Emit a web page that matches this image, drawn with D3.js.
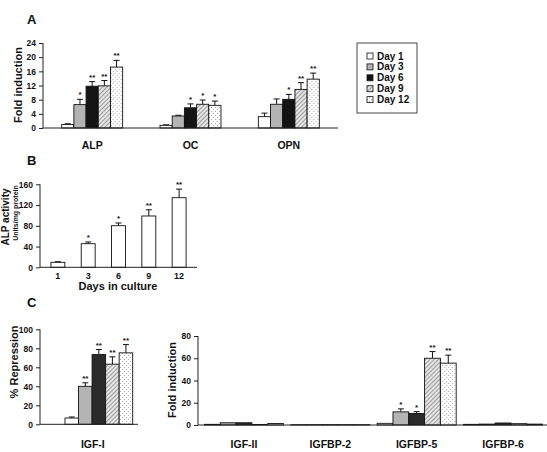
<!DOCTYPE html>
<html><head><meta charset="utf-8">
<script src="https://cdn.jsdelivr.net/npm/d3@7"></script>
<style>
body{margin:0;background:#fff;}
text{font-family:"Liberation Sans",Arial,sans-serif;font-weight:bold;fill:#111;}
</style></head>
<body><svg id="chart" width="547" height="452"></svg>
<script>
// ---------- data ----------
const days = ["Day 1","Day 3","Day 6","Day 9","Day 12"];
// Panel A
const genesA = ["ALP","OC","OPN"];
const foldA = [[1.0,6.6,11.8,11.9,17.2],[0.75,3.4,5.7,6.7,6.4],[3.2,6.7,8.1,10.9,13.8]];
const errA  = [[0.2,1.5,1.3,1.5,1.9],[0.15,0.2,1.1,1.2,1.2],[1.0,1.5,1.4,1.9,1.7]];
const sigA  = [["","*","**","**","**"],["","","*","*","*"],["","","*","**","**"]];
const ticksA = [0,4,8,12,16,20,24];
// Panel B
const daysB = ["1","3","6","9","12"];
const alpB  = [9.6,45.5,80.2,98.9,134.2];
const errB  = [1.2,3.3,5.2,12,16.5];
const sigB  = ["","*","*","**","**"];
const ticksB = [0,40,80,120,160];
// Panel C left
const genesC1 = ["IGF-I"];
const reprC1 = [[6.6,40,73.4,63.3,75.2]];
const errC1  = [[1.1,3.7,5.3,7.7,8.7]];
const sigC1  = [["","**","**","**","**"]];
const ticksC1 = [0,20,40,60,80,100];
// Panel C right
const genesC2 = ["IGF-II","IGFBP-2","IGFBP-5","IGFBP-6"];
const foldC2 = [[0.6,2.0,2.0,0.5,1.3],[0.3,0.3,0.3,0.3,0.3],[1.5,11.8,10.3,60,55.6],[0.6,0.8,1.8,1.2,0.8]];
const errC2  = [[0,0,0,0,0],[0,0,0,0,0],[0,2.7,1.7,6,7.2],[0,0,0,0,0]];
const sigC2  = [["","","","",""],["","","","",""],["","*","*","**","**"],["","","","",""]];
const ticksC2 = [0,20,40,60,80];

// ---------- setup ----------
const svg = d3.select("#chart");
const defs = svg.append("defs");
const hatch = defs.append("pattern").attr("id","hatch").attr("patternUnits","userSpaceOnUse")
  .attr("width",3).attr("height",3).attr("patternTransform","rotate(45)");
hatch.append("rect").attr("width",3).attr("height",3).attr("fill","#e4e4e4");
hatch.append("line").attr("x1",0).attr("y1",0).attr("x2",0).attr("y2",3).attr("stroke","#777").attr("stroke-width",1.3);
const dots = defs.append("pattern").attr("id","dots").attr("patternUnits","userSpaceOnUse")
  .attr("width",4).attr("height",4);
dots.append("rect").attr("width",4).attr("height",4).attr("fill","#fff");
dots.append("rect").attr("x",1).attr("y",1).attr("width",0.9).attr("height",0.9).attr("fill","#999");
dots.append("rect").attr("x",3).attr("y",3).attr("width",0.9).attr("height",0.9).attr("fill","#999");

const fills = ["#ffffff","#b4b4b4","#141414","url(#hatch)","url(#dots)"];
const fillsC = ["#ffffff","#b4b4b4","#2a2a2a","url(#hatch)","url(#dots)"];

function yAxis(g, y, x0, ticks){
  const ax = g.append("g").attr("transform",`translate(${x0},0)`)
    .call(d3.axisLeft(y).tickValues(ticks).tickSize(4).tickPadding(3));
  ax.select(".domain").remove();
  ax.append("line").attr("x1",0).attr("x2",0).attr("y1",y.range()[0]).attr("y2",y.range()[1]).attr("stroke","#222");
  ax.selectAll(".tick line").attr("stroke","#222");
  ax.selectAll(".tick text").attr("font-size",8.5).attr("font-family","Liberation Sans, Arial").attr("font-weight","bold").attr("fill","#111");
}

function groupedBars(g, genes, vals, errs, sigs, x0, y, fl){
  const x1 = d3.scaleBand().domain(days).range([0, x0.bandwidth()]).padding(0);
  genes.forEach((gene,i)=>{
    const gg = g.append("g").attr("transform",`translate(${x0(gene)},0)`);
    days.forEach((d,j)=>{
      const v = vals[i][j], e = errs[i][j];
      const xx = x1(d), w = x1.bandwidth();
      if(e>0){
        gg.append("line").attr("x1",xx+w/2).attr("x2",xx+w/2).attr("y1",y(v)).attr("y2",y(v+e)).attr("stroke","#111").attr("stroke-width",1);
        gg.append("line").attr("x1",xx+w/2-3).attr("x2",xx+w/2+3).attr("y1",y(v+e)).attr("y2",y(v+e)).attr("stroke","#111").attr("stroke-width",1);
      }
      gg.append("rect").attr("x",xx).attr("y",y(v)).attr("width",w).attr("height",y(0)-y(v))
        .attr("fill",fl[j]).attr("stroke","#111").attr("stroke-width",0.9);
      if(sigs[i][j]){
        gg.append("text").attr("x",xx+w/2).attr("y",y(v+e)-2).attr("text-anchor","middle")
          .attr("font-size",8).text(sigs[i][j]);
      }
    });
  });
}

// ---------- Panel A ----------
{
  const g = svg.append("g");
  const y = d3.scaleLinear().domain([0,24]).range([128,43]);
  const x0 = d3.scaleBand().domain(genesA).range([43,338]).paddingInner(0.38).paddingOuter(0.19);
  groupedBars(g, genesA, foldA, errA, sigA, x0, y, fills);
  g.append("line").attr("x1",43).attr("x2",338).attr("y1",y(0)).attr("y2",y(0)).attr("stroke","#222");
  yAxis(g, y, 43, ticksA);
  genesA.forEach(gn=> g.append("text").attr("x",x0(gn)+x0.bandwidth()/2).attr("y",149).attr("text-anchor","middle").attr("font-size",10.5).text(gn));
  g.append("text").attr("transform","translate(22,85) rotate(-90)").attr("text-anchor","middle").attr("font-size",11).text("Fold induction");
  g.append("text").attr("x",27).attr("y",24).attr("font-size",13).text("A");
  // legend
  const lg = g.append("g");
  lg.append("rect").attr("x",357).attr("y",43).attr("width",60).attr("height",70).attr("fill","#fff").attr("stroke","#333").attr("stroke-width",0.9);
  days.forEach((d,j)=>{
    const cy = 56 + j*10.9;
    lg.append("rect").attr("x",367).attr("y",cy-3).attr("width",6).attr("height",6).attr("fill",fills[j]).attr("stroke","#111").attr("stroke-width",0.8);
    lg.append("text").attr("x",377).attr("y",cy+3.5).attr("font-size",10).text(d);
  });
}

// ---------- Panel B ----------
{
  const g = svg.append("g");
  const y = d3.scaleLinear().domain([0,160]).range([267.3,184.3]);
  const x = d3.scaleBand().domain(daysB).range([40,197]).paddingInner(0.54).paddingOuter(0.36);
  daysB.forEach((d,j)=>{
    const v = alpB[j], e = errB[j], xx = x(d), w = x.bandwidth();
    g.append("line").attr("x1",xx+w/2).attr("x2",xx+w/2).attr("y1",y(v)).attr("y2",y(v+e)).attr("stroke","#111");
    g.append("line").attr("x1",xx+w/2-3).attr("x2",xx+w/2+3).attr("y1",y(v+e)).attr("y2",y(v+e)).attr("stroke","#111");
    g.append("rect").attr("x",xx).attr("y",y(v)).attr("width",w).attr("height",y(0)-y(v)).attr("fill","#fff").attr("stroke","#111").attr("stroke-width",0.9);
    if(sigB[j]) g.append("text").attr("x",xx+w/2).attr("y",y(v+e)-2).attr("text-anchor","middle").attr("font-size",8).text(sigB[j]);
    g.append("text").attr("x",xx+w/2).attr("y",279).attr("text-anchor","middle").attr("font-size",9).text(d);
  });
  g.append("line").attr("x1",40).attr("x2",197).attr("y1",y(0)).attr("y2",y(0)).attr("stroke","#222");
  yAxis(g, y, 40, ticksB);
  g.append("text").attr("x",118).attr("y",290).attr("text-anchor","middle").attr("font-size",11).text("Days in culture");
  g.append("text").attr("transform","translate(9,217) rotate(-90)").attr("text-anchor","middle").attr("font-size",10).text("ALP activity");
  g.append("text").attr("transform","translate(17.5,213) rotate(-90)").attr("text-anchor","middle").attr("font-size",7).text("Units/mg protein");
  g.append("text").attr("x",27).attr("y",165).attr("font-size",13).text("B");
}

// ---------- Panel C left ----------
{
  const g = svg.append("g");
  const y = d3.scaleLinear().domain([0,100]).range([424.3,329.3]);
  const x0 = d3.scaleBand().domain(genesC1).range([40,157.7]).paddingInner(0).paddingOuter(0.369);
  groupedBars(g, genesC1, reprC1, errC1, sigC1, x0, y, fillsC);
  g.append("line").attr("x1",40).attr("x2",138).attr("y1",y(0)).attr("y2",y(0)).attr("stroke","#222");
  yAxis(g, y, 40, ticksC1);
  g.append("text").attr("x",x0("IGF-I")+x0.bandwidth()/2-6).attr("y",448).attr("text-anchor","middle").attr("font-size",10.5).text("IGF-I");
  g.append("text").attr("transform","translate(18,362) rotate(-90)").attr("text-anchor","middle").attr("font-size",11).text("% Repression");
  g.append("text").attr("x",27).attr("y",307).attr("font-size",13).text("C");
}

// ---------- Panel C right ----------
{
  const g = svg.append("g");
  const y = d3.scaleLinear().domain([0,80]).range([425,336]);
  const x0 = d3.scaleBand().domain(genesC2).range([198,549]).paddingInner(0.085).paddingOuter(0.075);
  groupedBars(g, genesC2, foldC2, errC2, sigC2, x0, y, fillsC);
  g.append("line").attr("x1",198).attr("x2",547).attr("y1",y(0)).attr("y2",y(0)).attr("stroke","#222");
  yAxis(g, y, 198, ticksC2);
  genesC2.forEach(gn=> g.append("text").attr("x",x0(gn)+x0.bandwidth()/2).attr("y",448).attr("text-anchor","middle").attr("font-size",10.5).text(gn));
  g.append("text").attr("transform","translate(176,380) rotate(-90)").attr("text-anchor","middle").attr("font-size",11).text("Fold induction");
}
</script></body></html>
